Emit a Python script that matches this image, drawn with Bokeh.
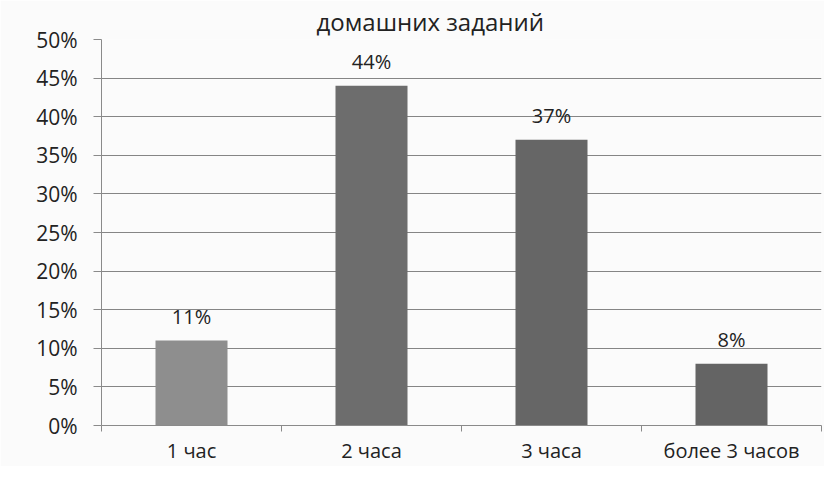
from bokeh.plotting import figure
from bokeh.models import ColumnDataSource, FixedTicker, NumeralTickFormatter, Range1d, LabelSet
from bokeh.core.properties import value
from bokeh.embed import file_html
from bokeh.resources import INLINE

categories = ["1 час", "2 часа", "3 часа", "более 3 часов"]
values = [0.11, 0.44, 0.37, 0.08]
value_labels = ["11%", "44%", "37%", "8%"]
y_ticks = [0.0, 0.05, 0.10, 0.15, 0.20, 0.25, 0.30, 0.35, 0.40, 0.45, 0.50]
title_text = "домашних заданий"

colors = ["#8e8e8e", "#6d6d6d", "#666666", "#646464"]

xs = [i + 0.5 for i in range(len(categories))]
src = ColumnDataSource(dict(x=xs, top=values, lab=value_labels, color=colors))

FONT = "Open Sans"
W, H = 824, 466

p = figure(width=W, height=H, output_backend="svg", toolbar_location=None,
           x_range=Range1d(0, len(categories)), y_range=Range1d(0, 0.5),
           min_border_left=101, min_border_right=3, min_border_top=38, min_border_bottom=38,
           background_fill_color="#fbfbfb", border_fill_color="#fbfbfb",
           title=title_text)
p.outline_line_color = None
p.title.align = "left"
p.title.offset = 215
p.title.standoff = 4
p.title.text_font = FONT
p.title.text_font_size = "24px"
p.title.text_font_style = "normal"
p.title.text_color = "#222222"

p.vbar(x="x", top="top", width=0.4, bottom=0, source=src, fill_color="color", line_color=None)

labels = LabelSet(x="x", y="top", text="lab", source=src, text_align="center",
                  text_baseline="alphabetic", y_offset=17, text_font=value(FONT),
                  text_font_size="20px", text_color="#222222")
p.add_layout(labels)

# x axis: labels at category centres, ticks at boundaries
p.xaxis.ticker = FixedTicker(ticks=xs, minor_ticks=list(range(len(categories) + 1)))
p.xaxis.major_label_overrides = {x: c for x, c in zip(xs, categories)}
p.xaxis.major_tick_line_color = None
p.xaxis.major_tick_out = 0
p.xaxis.minor_tick_out = 6
p.xaxis.minor_tick_in = 0
p.xaxis.minor_tick_line_color = "#8a8a8a"
p.xaxis.axis_line_color = "#8a8a8a"
p.xaxis.major_label_standoff = 5
p.xaxis.major_label_text_font = FONT
p.xaxis.major_label_text_font_size = "20px"
p.xaxis.major_label_text_color = "#222222"
p.xgrid.grid_line_color = None

p.yaxis.ticker = FixedTicker(ticks=y_ticks)
p.yaxis.formatter = NumeralTickFormatter(format="0%")
p.yaxis.minor_tick_line_color = None
p.yaxis.major_tick_out = 8
p.yaxis.major_tick_in = 0
p.yaxis.major_tick_line_color = "#8a8a8a"
p.yaxis.axis_line_color = "#8a8a8a"
p.yaxis.major_label_standoff = 16
p.yaxis.major_label_text_font = FONT
p.yaxis.major_label_text_font_size = "21px"
p.yaxis.major_label_text_color = "#222222"
p.ygrid.grid_line_color = "#858585"
p.ygrid.grid_line_width = 1

open("out.html", "w").write(file_html(p, INLINE))
